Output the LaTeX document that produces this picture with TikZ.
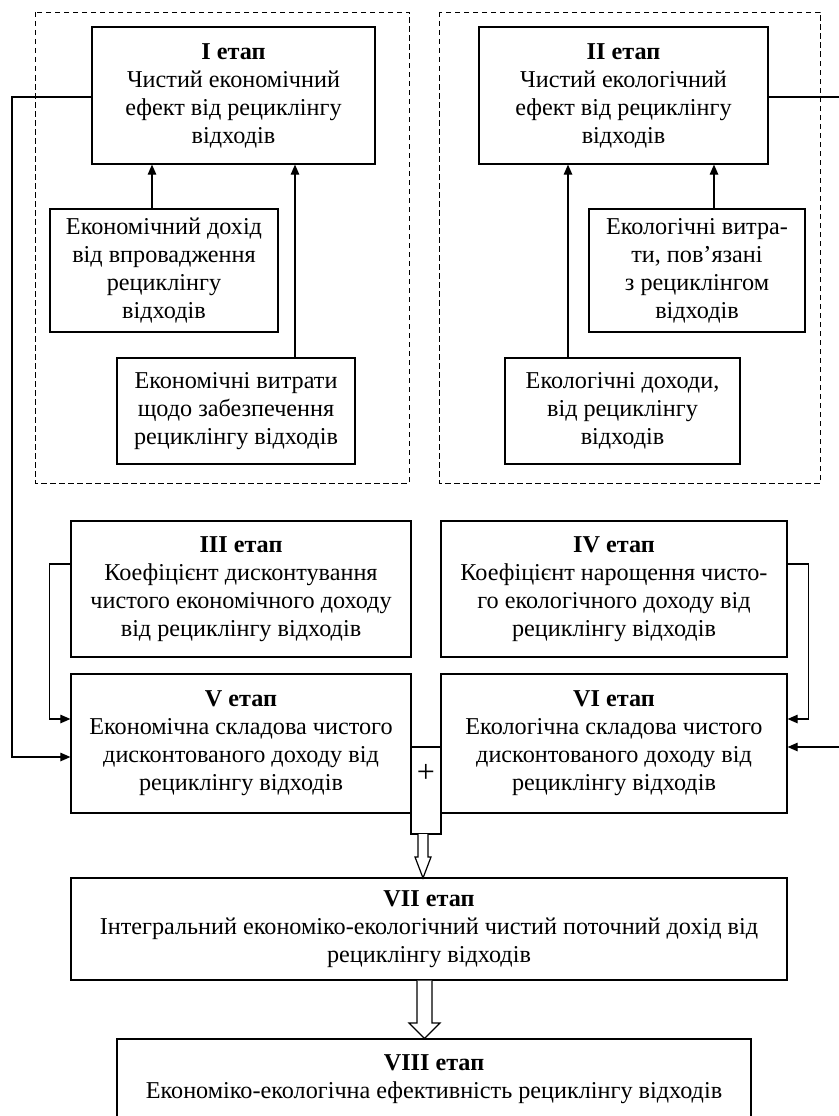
\documentclass[tikz,border=0pt]{standalone}
\usepackage{fontspec}
\setmainfont{Liberation Serif}
\usetikzlibrary{arrows.meta,calc}
\begin{document}
\begin{tikzpicture}[x=1pt,y=-1pt,
  box/.style={draw=black,line width=1.2pt,fill=white,align=center,inner sep=0pt,
    font=\fontsize{24.2}{28}\selectfont},
  dashbox/.style={draw=black,line width=0.9pt,dash pattern=on 5.5pt off 3.5pt},
  conn/.style={draw=black,line width=1.1pt},
  arr/.style={conn,-{Triangle[length=10pt,width=8.5pt]}},
  hollow/.style={draw=black,line width=1.2pt,fill=white,line join=miter}]
\useasboundingbox (0,0) rectangle (838,1116);
% grouping frames
\draw[dashbox] (35,12) rectangle (409,483);
\draw[dashbox] (439,12) rectangle (820,483);
% stage I group
\node[box,minimum width=283,minimum height=137] (I) at (233.5,95.5)
  {\textbf{I етап}\\Чистий економічний\\ефект від рециклінгу\\відходів};
\node[box,minimum width=228,minimum height=123] (A) at (164,270.5)
  {Економічний дохід\\від впровадження\\рециклінгу\\відходів};
\node[box,minimum width=238,minimum height=106] (B) at (236,411)
  {Економічні витрати\\щодо забезпечення\\рециклінгу відходів};
% stage II group
\node[box,minimum width=289,minimum height=137] (II) at (623.5,95.5)
  {\textbf{II етап}\\Чистий екологічний\\ефект від рециклінгу\\відходів};
\node[box,minimum width=216,minimum height=123] (C) at (697,270.5)
  {Екологічні витра-\\ти, пов’язані\\з рециклінгом\\відходів};
\node[box,minimum width=235,minimum height=106] (D) at (622.5,411)
  {Екологічні доходи,\\від рециклінгу\\відходів};
% middle stages
\node[box,minimum width=340,minimum height=136] (III) at (241,589)
  {\textbf{III етап}\\Коефіцієнт дисконтування\\чистого економічного доходу\\від рециклінгу відходів};
\node[box,minimum width=346,minimum height=136] (IV) at (614,589)
  {\textbf{IV етап}\\Коефіцієнт нарощення чисто-\\го екологічного доходу від\\рециклінгу відходів};
\node[box,minimum width=340,minimum height=139] (V) at (241,743.5)
  {\textbf{V етап}\\Економічна складова чистого\\дисконтованого доходу від\\рециклінгу відходів};
\node[box,minimum width=346,minimum height=139] (VI) at (614,743.5)
  {\textbf{VI етап}\\Екологічна складова чистого\\дисконтованого доходу від\\рециклінгу відходів};
\node[box,minimum width=30,minimum height=87] (plus) at (426,790.5) {};
\node[font=\fontsize{32}{32}\selectfont,inner sep=0pt] (plussign) at (426,773) {+};
\node[box,minimum width=716,minimum height=102] (VII) at (429,929)
  {\textbf{VII етап}\\Інтегральний економіко-екологічний чистий поточний дохід від\\рециклінгу відходів};
\node[box,minimum width=634,minimum height=80] (VIII) at (434,1079)
  {\textbf{VIII етап}\\Економіко-екологічна ефективність рециклінгу відходів};
% free-end coordinates
\coordinate (Lx) at (12,0);
\coordinate (Rx) at (845,0);
% arrows inside groups
\draw[arr] ([xshift=-12pt]A.north) -- ([xshift=-12pt]A.north |- I.south);
\draw[arr] ([xshift=59pt]B.north) -- ([xshift=59pt]B.north |- I.south);
\draw[arr] ([xshift=17pt]C.north) -- ([xshift=17pt]C.north |- II.south);
\draw[arr] ([xshift=-54.5pt]D.north) -- ([xshift=-54.5pt]D.north |- II.south);
% long connectors
\draw[arr] ([yshift=-1.5pt]I.west) -- ([yshift=-1.5pt]I.west -| Lx) |- ([yshift=-13.5pt]V.west);
\draw[conn] ([yshift=-1.5pt]II.east) -- ([yshift=-1.5pt]II.east -| Rx);
\coordinate (Rin) at ([yshift=-3.5pt]VI.east -| Rx);
\draw[arr] (Rin) -- ([yshift=-3.5pt]VI.east);
% III -> V, IV -> VI
\draw[arr] ([yshift=25pt]III.west) -- ++(-21,0) |- ([yshift=24.5pt]V.west);
\draw[arr] ([yshift=25pt]IV.east) -- ++(21,0) |- ([yshift=24.5pt]VI.east);
% hollow arrows
\draw[hollow] (418,834) -- (418,857) -- (415,857) -- (423,878) -- (431,857) -- (428,857) -- (428,834);
\draw[hollow] (417,980.6) -- (417,1023) -- (409,1023) -- (424.5,1038.5) -- (440,1023) -- (432,1023) -- (432,980.6);
\end{tikzpicture}
\end{document}
